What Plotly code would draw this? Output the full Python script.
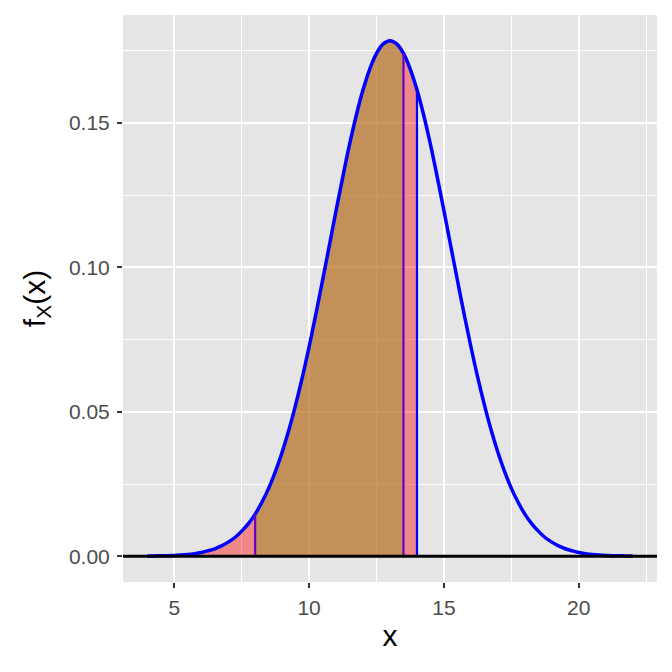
import plotly.graph_objects as go

# density values (x step 0.25)
x_vals = [4.0 + 0.25 * i for i in range(73)]
fx_vals = [0.0001, 0.0001, 0.0002, 0.0002, 0.0003, 0.0004, 0.0006, 0.0009, 0.0013,
           0.0019, 0.0026, 0.0036, 0.0049, 0.0065, 0.0087, 0.0113, 0.0146, 0.0187,
           0.0235, 0.0293, 0.0360, 0.0437, 0.0524, 0.0620, 0.0725, 0.0837, 0.0955,
           0.1075, 0.1196, 0.1313, 0.1425, 0.1526, 0.1614, 0.1686, 0.1740, 0.1773,
           0.1784,
           0.1773, 0.1740, 0.1686, 0.1614, 0.1526, 0.1425, 0.1313, 0.1196, 0.1075,
           0.0955, 0.0837, 0.0725, 0.0620, 0.0524, 0.0437, 0.0360, 0.0293, 0.0235,
           0.0187, 0.0146, 0.0113, 0.0087, 0.0065, 0.0049, 0.0036, 0.0026, 0.0019,
           0.0013, 0.0009, 0.0006, 0.0004, 0.0003, 0.0002, 0.0002, 0.0001, 0.0001]

lower_b, upper_b, upper_a = 8.0, 13.5, 14.0
x_ticks = [5, 10, 15, 20]
y_ticks = [0.00, 0.05, 0.10, 0.15]
y_tick_text = ["0.00", "0.05", "0.10", "0.15"]


def region(lo, hi):
    xs = [x for x in x_vals if lo <= x <= hi]
    ys = [y for x, y in zip(x_vals, fx_vals) if lo <= x <= hi]
    return xs, ys


def fx_at(v):
    return fx_vals[x_vals.index(v)]


fig = go.Figure()

rx, ry = region(x_vals[0], upper_a)
fig.add_trace(go.Scatter(x=rx, y=ry, fill="tozeroy", mode="none",
                         fillcolor="rgba(255,0,0,0.4)", hoverinfo="skip"))
bx, by = region(lower_b, upper_b)
fig.add_trace(go.Scatter(x=bx, y=by, fill="tozeroy", mode="none",
                         fillcolor="rgba(150,152,40,0.5)", hoverinfo="skip"))

fig.add_trace(go.Scatter(x=x_vals, y=fx_vals, mode="lines", line_shape="spline",
                         line=dict(color="#0000FF", width=3.5)))

for v, col in [(upper_a, "#0000FF"), (lower_b, "#6A00C8"), (upper_b, "#6A00C8")]:
    fig.add_trace(go.Scatter(x=[v, v], y=[0, fx_at(v)], mode="lines",
                             line=dict(color=col, width=2.2)))

fig.add_shape(type="line", xref="paper", yref="y", x0=0, x1=1, y0=0, y1=0,
              line=dict(color="black", width=3))

fig.update_layout(
    width=664, height=664,
    margin=dict(l=115, r=15, t=7, b=90),
    paper_bgcolor="white", plot_bgcolor="#E5E5E5",
    showlegend=False,
    font=dict(family="Liberation Sans, Arial", color="#4D4D4D", size=21),
)
fig.update_xaxes(range=[3.1, 22.9], tickvals=x_ticks, ticks="outside", ticklen=5,
                 tickcolor="#333333", tickwidth=1.5, showgrid=True, gridcolor="white",
                 gridwidth=1.6, zeroline=False, showline=False, ticklabelstandoff=2,
                 minor=dict(dtick=2.5, tick0=0, showgrid=True, gridcolor="white", gridwidth=0.7),
                 title=dict(text="x", font=dict(size=30, color="black"), standoff=6))
fig.update_yaxes(range=[-0.0089, 0.1873], tickvals=y_ticks, ticktext=y_tick_text,
                 ticks="outside", ticklen=5, tickcolor="#333333", tickwidth=1.5,
                 showgrid=True, gridcolor="white", gridwidth=1.6, zeroline=False,
                 showline=False, ticklabelstandoff=3,
                 minor=dict(dtick=0.025, tick0=0, showgrid=True, gridcolor="white", gridwidth=0.7),
                 title=dict(text="f<sub>X</sub>(x)", font=dict(size=30, color="black"), standoff=14))

fig.write_html("out.html")
